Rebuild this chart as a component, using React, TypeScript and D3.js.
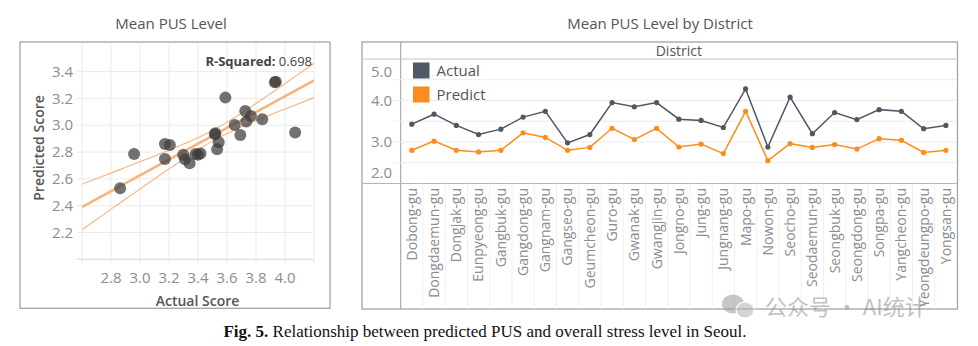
import React from "react";
import * as d3 from "d3";

// ---------- Data ----------
const scatterActual = [2.863, 2.959, 3.172, 3.206, 3.172, 3.298, 3.31, 3.342, 3.383, 3.417, 3.516, 3.543, 3.532, 3.589, 3.653, 3.692, 3.726, 3.733, 3.765, 3.843, 3.937, 3.93, 4.07, 3.4, 3.52];
const scatterPredicted = [2.53, 2.786, 2.86, 2.853, 2.749, 2.78, 2.746, 2.716, 2.786, 2.79, 2.933, 2.873, 2.82, 3.206, 3.002, 2.928, 3.107, 3.027, 3.069, 3.045, 3.325, 3.32, 2.945, 2.78, 2.94];
const rSquaredText = "0.698";
// trend line as shown (Predicted = intercept + slope * Actual) and its 95% band
const trendIntercept = 0.856;
const trendSlope = 0.59;
const bandCenter = 3.52;
const bandMinHalfWidth = 0.04;
const bandCurvature = 0.032;
const leftXTicks = [2.8, 3.0, 3.2, 3.4, 3.6, 3.8, 4.0];
const leftXGrid = [2.6, 2.8, 3.0, 3.2, 3.4, 3.6, 3.8, 4.0, 4.2];
const leftYTicks = [2.2, 2.4, 2.6, 2.8, 3.0, 3.2, 3.4];
const leftYGrid = [2.0, 2.2, 2.4, 2.6, 2.8, 3.0, 3.2, 3.4];

const districts = ["Dobong-gu", "Dongdaemun-gu", "Dongjak-gu", "Eunpyeong-gu", "Gangbuk-gu", "Gangdong-gu", "Gangnam-gu", "Gangseo-gu", "Geumcheon-gu", "Guro-gu", "Gwanak-gu", "Gwangjin-gu", "Jongno-gu", "Jung-gu", "Jungnang-gu", "Mapo-gu", "Nowon-gu", "Seocho-gu", "Seodaemun-gu", "Seongbuk-gu", "Seongdong-gu", "Songpa-gu", "Yangcheon-gu", "Yeongdeungpo-gu", "Yongsan-gu"];
const actualValues = [3.43, 3.67, 3.40, 3.18, 3.31, 3.60, 3.74, 2.98, 3.18, 3.95, 3.85, 3.95, 3.55, 3.52, 3.35, 4.28, 2.88, 4.08, 3.20, 3.71, 3.54, 3.78, 3.74, 3.32, 3.40];
const predictValues = [2.80, 3.02, 2.80, 2.76, 2.80, 3.22, 3.11, 2.80, 2.87, 3.33, 3.06, 3.33, 2.88, 2.95, 2.72, 3.74, 2.55, 2.96, 2.87, 2.94, 2.83, 3.08, 3.04, 2.75, 2.80];
const rightYTicks = [2.0, 3.0, 4.0, 5.0];
const rightYGrid = [2.5, 3.0, 3.5, 4.0, 4.5];
const legendItems = ["Actual", "Predict"];

const W = 978;
const H = 346;
const SANS = "'Open Sans', 'DejaVu Sans', sans-serif";
const ACTUAL_COLOR = "#505866";
const PREDICT_COLOR = "#fd8c1f";
const TREND_COLOR = "#f8b47c";
const GRID = "#ebebeb";
const BORDER = "#a3a3a3";
const TICK_TEXT = "#8a8d93";

export default function App() {
  // ---------- Left scatter ----------
  const lx = d3.scaleLinear().domain([2.6, 4.2]).range([82, 314]);
  const ly = d3.scaleLinear().domain([2.0, 3.6]).range([259.3, 44.8]);

  const xs = d3.range(0, 61).map((i) => 2.6 + (1.6 * i) / 60);
  const fit = (x: number) => trendIntercept + trendSlope * x;
  const half = (x: number) =>
    Math.sqrt(bandMinHalfWidth ** 2 + bandCurvature * (x - bandCenter) ** 2);
  const lineGen = d3
    .line<[number, number]>()
    .x((d) => lx(d[0]))
    .y((d) => ly(d[1]));
  const trendPath = lineGen(xs.map((x) => [x, fit(x)]));
  const upperPath = lineGen(xs.map((x) => [x, fit(x) + half(x)]));
  const lowerPath = lineGen(xs.map((x) => [x, fit(x) - half(x)]));

  // ---------- Right line chart ----------
  const rLeft = 400.7;
  const rRight = 957;
  const rTop = 59;
  const rBottom = 183.5;
  const band = d3.scaleBand<string>().domain(districts).range([rLeft, rRight]);
  const cx = (d: string) => band(d)! + band.bandwidth() / 2;
  const ry = d3.scaleLinear().domain([2.0, 5.0]).range([rBottom, rTop]);
  const rLine = d3
    .line<number>()
    .x((_, i) => cx(districts[i]))
    .y((v) => ry(v));
  const clampY = (v: number) => Math.min(Math.max(ry(v), rTop + 13), rBottom - 11);

  return (
    <svg
      width={W}
      height={H}
      viewBox={`0 0 ${W} ${H}`}
      style={{ position: "absolute", left: 0, top: 0, display: "block", background: "#fff" }}
    >
      <defs>
        <clipPath id="leftClip">
          <rect x={82} y={43} width={232} height={216.3} />
        </clipPath>
        <clipPath id="rightLabelClip">
          <rect x={362} y={183.5} width={596} height={124.5} />
        </clipPath>
      </defs>
      <rect x={0} y={0} width={W} height={H} fill="#fff" />

      {/* ===== Left panel ===== */}
      <text x={171} y={29} textAnchor="middle" fontFamily={SANS} fontSize={15} fill="#555">
        Mean PUS Level
      </text>
      <rect x={20} y={42} width={310} height={266.3} fill="none" stroke={BORDER} strokeWidth={1.3} />
      {leftYGrid.map((v) => (
        <line key={"lyg" + v} x1={77} x2={314} y1={ly(v)} y2={ly(v)} stroke={GRID} strokeWidth={1} />
      ))}
      {leftXGrid.map((v) => (
        <line key={"lxg" + v} x1={lx(v)} x2={lx(v)} y1={43} y2={ly(2.0) + 4} stroke={GRID} strokeWidth={1} />
      ))}
      <line x1={77} x2={314} y1={ly(2.0)} y2={ly(2.0)} stroke="#dcdcdc" strokeWidth={1} />
      {leftYTicks.map((v) => (
        <text key={"lyt" + v} x={73} y={ly(v)} dy="0.35em" textAnchor="end" fontFamily={SANS} fontSize={15} fill={TICK_TEXT}>
          {v.toFixed(1)}
        </text>
      ))}
      {leftXTicks.map((v) => (
        <text key={"lxt" + v} x={lx(v)} y={283} textAnchor="middle" fontFamily={SANS} fontSize={15} fill={TICK_TEXT}>
          {v.toFixed(1)}
        </text>
      ))}
      <text
        transform={`translate(44,148) rotate(-90)`}
        textAnchor="middle"
        fontFamily={SANS}
        fontSize={14}
        fontWeight={600}
        fill="#555"
      >
        Predicted Score
      </text>
      <text x={197.5} y={306} textAnchor="middle" fontFamily={SANS} fontSize={14} fontWeight={600} fill="#555">
        Actual Score
      </text>
      <g clipPath="url(#leftClip)">
        <path d={upperPath!} fill="none" stroke={TREND_COLOR} strokeWidth={1.1} />
        <path d={lowerPath!} fill="none" stroke={TREND_COLOR} strokeWidth={1.1} />
        <path d={trendPath!} fill="none" stroke={TREND_COLOR} strokeWidth={2.6} />
        {scatterActual.map((a, i) => (
          <circle key={"pt" + i} cx={lx(a)} cy={ly(scatterPredicted[i])} r={6} fill="#3c3c3c" fillOpacity={0.72} />
        ))}
      </g>
      <text x={312} y={66} textAnchor="end" fontFamily={SANS} fontSize={13} fill="#444">
        <tspan fontWeight={700}>R-Squared:</tspan>
        <tspan> {rSquaredText}</tspan>
      </text>

      {/* ===== Right panel ===== */}
      <text x={660} y={29} textAnchor="middle" fontFamily={SANS} fontSize={15} fill="#555">
        Mean PUS Level by District
      </text>
      <rect x={362} y={42} width={595.5} height={267} fill="none" stroke={BORDER} strokeWidth={1.3} />
      <line x1={rLeft} x2={rLeft} y1={42} y2={309} stroke={BORDER} strokeWidth={1.1} />
      <line x1={362} x2={957.5} y1={rTop} y2={rTop} stroke="#c4c4c4" strokeWidth={1.1} />
      <line x1={362} x2={957.5} y1={rBottom} y2={rBottom} stroke="#b5b5b5" strokeWidth={1.1} />
      <text x={(rLeft + rRight) / 2} y={56} textAnchor="middle" fontFamily={SANS} fontSize={14} fill="#555">
        District
      </text>
      {rightYGrid.map((v) => (
        <line key={"ryg" + v} x1={rLeft - 7} x2={rRight} y1={ry(v)} y2={ry(v)} stroke={GRID} strokeWidth={1} />
      ))}
      {rightYTicks.map((v) => (
        <text key={"ryt" + v} x={392} y={clampY(v)} dy="0.35em" textAnchor="end" fontFamily={SANS} fontSize={15} fill={TICK_TEXT}>
          {v.toFixed(1)}
        </text>
      ))}
      {districts.slice(1).map((d) => (
        <line key={"sep" + d} x1={band(d)!} x2={band(d)!} y1={rBottom} y2={309} stroke="#f0f0f0" strokeWidth={1} />
      ))}
      <g clipPath="url(#rightLabelClip)">
        {districts.map((d) => (
          <text
            key={"lab" + d}
            transform={`translate(${cx(d)},188) rotate(-90)`}
            textAnchor="end"
            dy="0.35em"
            fontFamily={SANS}
            fontSize={14}
            fill={TICK_TEXT}
          >
            {d}
          </text>
        ))}
      </g>
      <path d={rLine(actualValues)!} fill="none" stroke={ACTUAL_COLOR} strokeWidth={1.5} />
      {actualValues.map((v, i) => (
        <circle key={"a" + i} cx={cx(districts[i])} cy={ry(v)} r={2.6} fill={ACTUAL_COLOR} />
      ))}
      <path d={rLine(predictValues)!} fill="none" stroke={PREDICT_COLOR} strokeWidth={1.5} />
      {predictValues.map((v, i) => (
        <circle key={"p" + i} cx={cx(districts[i])} cy={ry(v)} r={2.6} fill={PREDICT_COLOR} />
      ))}
      {legendItems.map((name, i) => (
        <g key={"leg" + name} transform={`translate(413,${62.5 + i * 24})`}>
          <rect x={0} y={0} width={16.5} height={16} fill={i === 0 ? ACTUAL_COLOR : PREDICT_COLOR} />
          <text x={23.5} y={8} dy="0.35em" fontFamily={SANS} fontSize={15} fill="#555">
            {name}
          </text>
        </g>
      ))}

      {/* watermark */}
      <g opacity={0.55}>
        <ellipse cx={733} cy={304} rx={11} ry={9.5} fill="#9a9a9a" />
        <ellipse cx={745} cy={310} rx={9} ry={8} fill="#b3b3b3" stroke="#fff" strokeWidth={1.2} />
        <text x={765} y={307} dy="0.35em" fontFamily="'Noto Sans CJK SC', sans-serif" fontSize={22} fill="#8f8f8f">
          公众号 · AI统计
        </text>
      </g>

      {/* caption */}
      <text x={485} y={337} textAnchor="middle" fontFamily="'Liberation Serif', 'Times New Roman', serif" fontSize={17} fill="#111">
        <tspan fontWeight={700}>Fig. 5.</tspan>
        <tspan>{"  Relationship between predicted PUS and overall stress level in Seoul."}</tspan>
      </text>
    </svg>
  );
}
